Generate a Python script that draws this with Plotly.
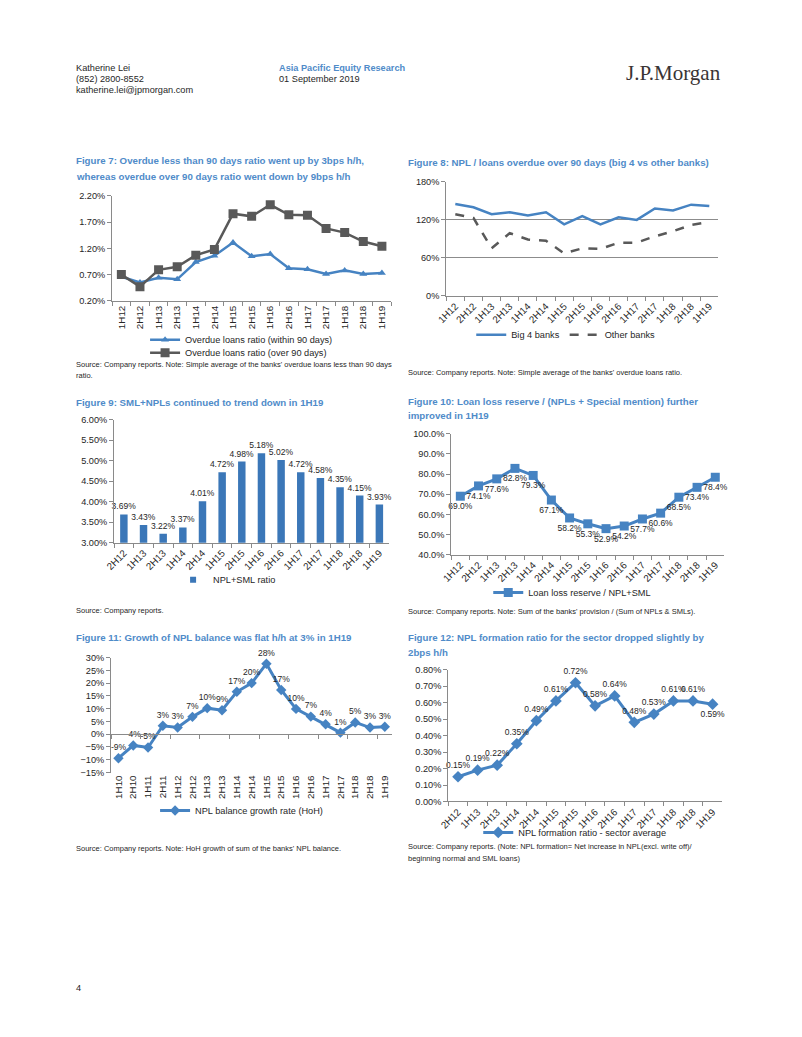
import plotly.graph_objects as go

W, H = 802, 1037

# ---------------- data ----------------
cats7 = ["1H12", "2H12", "1H13", "2H13", "1H14", "2H14", "1H15", "2H15",
         "1H16", "2H16", "1H17", "2H17", "1H18", "2H18", "1H19"]
overdue_within90 = [0.66, 0.55, 0.64, 0.61, 0.94, 1.06, 1.31, 1.05,
                    1.09, 0.82, 0.80, 0.71, 0.78, 0.71, 0.73]
overdue_over90 = [0.70, 0.47, 0.79, 0.85, 1.07, 1.18, 1.86, 1.81,
                  2.03, 1.84, 1.83, 1.58, 1.50, 1.33, 1.24]

cats8 = cats7
big4_banks = [145, 140, 129, 132, 127, 132, 113, 126, 113, 124, 120, 138, 135, 144, 142]
other_banks = [129, 123, 75, 99, 89, 87, 67, 75, 74, 84, 84, 94, 102, 112, 117]

cats9 = ["2H12", "1H13", "2H13", "1H14", "2H14", "1H15", "2H15", "1H16",
         "2H16", "1H17", "2H17", "1H18", "2H18", "1H19"]
npl_sml_ratio = [3.69, 3.43, 3.22, 3.37, 4.01, 4.72, 4.98, 5.18,
                 5.02, 4.72, 4.58, 4.35, 4.15, 3.93]

cats10 = cats7
loan_loss_reserve = [69.0, 74.1, 77.6, 82.8, 79.3, 67.1, 58.2, 55.3,
                     52.9, 54.2, 57.7, 60.6, 68.5, 73.4, 78.4]

cats11 = ["1H10", "2H10", "1H11", "2H11", "1H12", "2H12", "1H13", "2H13",
          "1H14", "2H14", "1H15", "2H15", "1H16", "2H16", "1H17", "2H17",
          "1H18", "2H18", "1H19"]
npl_growth = [-9.4, -4.4, -5.2, 3.3, 2.6, 6.8, 10.2, 9.4, 16.6, 20.0,
              27.6, 17.3, 9.9, 6.9, 3.9, 0.6, 4.6, 2.6, 2.9]

cats12 = cats9
npl_formation = [0.15, 0.19, 0.22, 0.35, 0.49, 0.61, 0.72, 0.58,
                 0.64, 0.48, 0.53, 0.61, 0.61, 0.59]

# ---------------- styles ----------------
BLUE = "#4683C2"
BAR_BLUE = "#3B77B8"
TITLE_BLUE = "#4F8BC9"
GRAY = "#595959"
AXIS = "#8A8A8A"
TXT = "#262626"
SANS = "Liberation Sans, Arial, sans-serif"
YTICK = 9.2
XTICK = 9.8
LAB = 8.5
LEG = 9.2
SRC = 7.5
TTL = 9.7

# page placement correction (screen pixel -> paper fraction)
OX, OY, SX, SY = 17.0, 12.0, 0.987, 0.991


def fx(x):
    return ((x - OX) / SX) / W


def fy(y):
    return 1 - ((y - OY) / SY) / H


fig = go.Figure()

# Figure 7
fig.add_trace(go.Scatter(x=cats7, y=overdue_within90, mode="lines+markers",
                         name="Overdue loans ratio (within 90 days)",
                         line=dict(color=BLUE, width=2.5),
                         marker=dict(symbol="triangle-up", size=7, color=BLUE),
                         xaxis="x", yaxis="y", legend="legend"))
fig.add_trace(go.Scatter(x=cats7, y=overdue_over90, mode="lines+markers",
                         name="Overdue loans ratio (over 90 days)",
                         line=dict(color=GRAY, width=2.5),
                         marker=dict(symbol="square", size=9, color=GRAY),
                         xaxis="x", yaxis="y", legend="legend2"))

# Figure 8
fig.add_trace(go.Scatter(x=cats8, y=big4_banks, mode="lines", name="Big 4 banks",
                         line=dict(color=BLUE, width=2.5),
                         xaxis="x2", yaxis="y2", legend="legend3"))
fig.add_trace(go.Scatter(x=cats8, y=other_banks, mode="lines", name="Other banks",
                         line=dict(color=GRAY, width=2.5, dash="dash"),
                         xaxis="x2", yaxis="y2", legend="legend3"))

# Figure 9
fig.add_trace(go.Bar(x=cats9, y=npl_sml_ratio, name="NPL+SML ratio",
                     marker=dict(color=BAR_BLUE, line=dict(width=0)),
                     texttemplate="%{y:.2f}%", textposition="outside",
                     constraintext="none",
                     textfont=dict(family=SANS, size=LAB, color=TXT),
                     cliponaxis=False, width=0.38, showlegend=False,
                     xaxis="x3", yaxis="y3"))
fig.add_trace(go.Scatter(x=[None], y=[None], mode="markers", name="NPL+SML ratio",
                         marker=dict(symbol="square", size=6, color=BAR_BLUE),
                         xaxis="x3", yaxis="y3", legend="legend4"))

# Figure 10
fig.add_trace(go.Scatter(x=cats10, y=loan_loss_reserve, mode="lines+markers+text",
                         name="Loan loss reserve / NPL+SML",
                         line=dict(color=BLUE, width=3),
                         marker=dict(symbol="square", size=9, color=BLUE),
                         texttemplate="%{y:.1f}%", textposition="bottom center",
                         textfont=dict(family=SANS, size=LAB, color=TXT),
                         cliponaxis=False,
                         xaxis="x4", yaxis="y4", legend="legend5"))

# Figure 11
fig.add_trace(go.Scatter(x=cats11, y=npl_growth, mode="lines+markers+text",
                         name="NPL balance growth rate (HoH)",
                         line=dict(color=BLUE, width=3),
                         marker=dict(symbol="diamond", size=8, color=BLUE),
                         texttemplate="%{y:.0f}%", textposition="top center",
                         textfont=dict(family=SANS, size=LAB, color=TXT),
                         cliponaxis=False,
                         xaxis="x5", yaxis="y5", legend="legend6"))
# category axis drawn at the 0% line (tick marks only)
fig.add_trace(go.Scatter(x=cats11, y=npl_growth, mode="none", showlegend=False,
                         hoverinfo="skip", xaxis="x7", yaxis="y5"))

# Figure 12
pos12 = ["top center"] * (len(npl_formation) - 1) + ["bottom center"]
fig.add_trace(go.Scatter(x=cats12, y=npl_formation, mode="lines+markers+text",
                         name="NPL formation ratio - sector average",
                         line=dict(color=BLUE, width=3),
                         marker=dict(symbol="diamond", size=9, color=BLUE),
                         texttemplate="%{y:.2f}%", textposition=pos12,
                         textfont=dict(family=SANS, size=LAB, color=TXT),
                         cliponaxis=False,
                         xaxis="x6", yaxis="y6", legend="legend7"))


def xax(x0, x1, anchor, angle, n, showline=True, ticks="outside"):
    return dict(domain=[fx(x0), fx(x1)], anchor=anchor, type="category",
                range=[-0.5, n - 0.5], tickangle=angle,
                tickfont=dict(family=SANS, size=XTICK, color=TXT),
                showline=showline, linecolor=AXIS, linewidth=1,
                ticks=ticks, tickson="boundaries", ticklen=4, tickcolor=AXIS,
                showgrid=False, zeroline=False, fixedrange=True)


def yax(y_top, y_bot, anchor, rng, dtick, fmt, grid=False, zero=False):
    return dict(domain=[fy(y_bot), fy(y_top)], anchor=anchor, range=rng,
                dtick=dtick, tick0=rng[0], tickformat=fmt, ticksuffix="%",
                tickfont=dict(family=SANS, size=YTICK, color=TXT),
                showline=True, linecolor=AXIS, linewidth=1,
                ticks="outside", ticklen=4, tickcolor=AXIS,
                showgrid=grid, gridcolor="#8C8C8C", gridwidth=1,
                zeroline=zero, zerolinecolor=AXIS, zerolinewidth=1,
                fixedrange=True)


def leg(x, y, orient="v"):
    return dict(x=fx(x), y=fy(y), xanchor="left", yanchor="middle",
                orientation=orient, font=dict(family=SANS, size=LEG, color=TXT),
                bgcolor="rgba(0,0,0,0)", itemwidth=30, tracegroupgap=0,
                itemclick=False, itemdoubleclick=False)


annotations = []


def text(x, y, s, size=9, color=TXT, family=SANS, bold=False, anchor="left"):
    if bold:
        s = "<b>" + s + "</b>"
    annotations.append(dict(x=fx(x), y=fy(y), xref="paper", yref="paper",
                            text=s, showarrow=False, xanchor=anchor,
                            yanchor="middle", align="left",
                            font=dict(family=family, size=size, color=color)))


# header
text(73, 67, "Katherine Lei", size=9.2)
text(73, 78, "(852) 2800-8552", size=9.2)
text(73, 89, "katherine.lei@jpmorgan.com", size=9.2)
text(276, 67, "Asia Pacific Equity Research", size=9.2, color=TITLE_BLUE, bold=True)
text(276, 78, "01 September 2019", size=9.2)
text(623, 72, "J.P.Morgan", size=21, color="#3A3434",
     family="Liberation Serif, Times New Roman, serif")
text(73, 988, "4", size=9.2)


def title(x, y, s):
    text(x, y, s, size=TTL, color=TITLE_BLUE, bold=True)


title(73, 160, "Figure 7: Overdue less than 90 days ratio went up by 3bps h/h,")
title(73, 176, "whereas overdue over 90 days ratio went down by 9bps h/h")
title(405, 162, "Figure 8: NPL / loans overdue over 90 days (big 4 vs other banks)")
title(73, 402, "Figure 9: SML+NPLs continued to trend down in 1H19")
title(405, 401, "Figure 10: Loan loss reserve / (NPLs + Special mention) further")
title(405, 415, "improved in 1H19")
title(73, 637, "Figure 11: Growth of NPL balance was flat h/h at 3% in 1H19")
title(405, 637, "Figure 12: NPL formation ratio for the sector dropped slightly by")
title(405, 652, "2bps h/h")

text(73, 364, "Source: Company reports. Note: Simple average of the banks' overdue loans less than 90 days", size=SRC)
text(73, 375, "ratio.", size=SRC)
text(405, 372, "Source: Company reports. Note: Simple average of the banks' overdue loans ratio.", size=SRC)
text(73, 610, "Source: Company reports.", size=SRC)
text(405, 611, "Source: Company reports. Note: Sum of the banks' provision / (Sum of NPLs &amp; SMLs).", size=SRC)
text(73, 848, "Source: Company reports. Note: HoH growth of sum of the banks' NPL balance.", size=SRC)
text(405, 846, "Source: Company reports. (Note: NPL formation= Net increase in NPL(excl. write off)/", size=SRC)
text(405, 858, "beginning normal and SML loans)", size=SRC)

zero_frac = fy(657) - (fy(657) - fy(772)) * (30 / 45)  # 0% level of figure 11 y-range

fig.update_layout(
    width=W, height=H, margin=dict(l=0, r=0, t=0, b=0),
    paper_bgcolor="white", plot_bgcolor="rgba(0,0,0,0)",
    font=dict(family=SANS, size=YTICK, color=TXT),
    xaxis=xax(111, 390, "y", -90, len(cats7)),
    yaxis=yax(195, 300, "x", [0.2, 2.2], 0.5, ".2f"),
    xaxis2=xax(445, 717, "y2", -45, len(cats8)),
    yaxis2=yax(181, 295, "x2", [0, 180], 60, ".0f", grid=True),
    xaxis3=xax(113, 388, "y3", -45, len(cats9)),
    yaxis3=yax(419, 542, "x3", [3, 6], 0.5, ".2f"),
    xaxis4=xax(450, 723, "y4", -45, len(cats10)),
    yaxis4=yax(433, 554, "x4", [40, 100], 10, ".1f"),
    xaxis5=xax(110, 391, "y5", -90, len(cats11), showline=False, ticks=""),
    yaxis5=yax(657, 772, "x5", [-15, 30], 5, ".0f", zero=True),
    xaxis7=dict(domain=[fx(110), fx(391)], overlaying="x5", anchor="free",
                position=zero_frac, type="category", range=[-0.5, len(cats11) - 0.5],
                showticklabels=False, showline=True, linecolor=AXIS, linewidth=1,
                ticks="outside", tickson="boundaries", ticklen=4, tickcolor=AXIS,
                showgrid=False, zeroline=False, fixedrange=True),
    xaxis6=xax(447, 721, "y6", -45, len(cats12)),
    yaxis6=yax(669, 801, "x6", [0, 0.8], 0.1, ".2f"),
    legend=leg(144, 339),
    legend2=leg(144, 352),
    legend3=leg(470, 334, "h"),
    legend4=leg(172, 579),
    legend5=leg(487, 592),
    legend6=leg(154, 810),
    legend7=leg(477, 832),
    annotations=annotations,
    showlegend=True,
)

fig.write_html("out.html")
